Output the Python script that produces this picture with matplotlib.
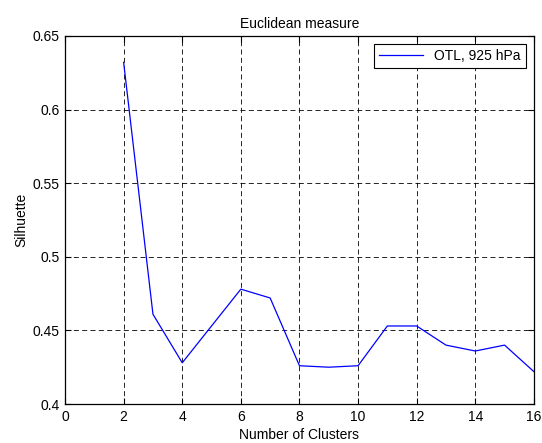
import matplotlib
matplotlib.use("Agg")
import matplotlib.pyplot as plt

plt.rcParams['font.family'] = ['Liberation Sans', 'DejaVu Sans']

clusters = [2, 3, 4, 5, 6, 7, 8, 9, 10, 11, 12, 13, 14, 15, 16]
silhouette = [0.632, 0.461, 0.428, 0.453, 0.478, 0.472, 0.426, 0.425, 0.426,
              0.453, 0.453, 0.440, 0.436, 0.440, 0.422]
xticks = list(range(0, 17, 2))
yticks = [0.4, 0.45, 0.5, 0.55, 0.6, 0.65]
ytick_labels = ['0.4', '0.45', '0.5', '0.55', '0.6', '0.65']

fig = plt.figure(figsize=(5.42, 4.43), dpi=100)
ax = fig.add_axes([0.12, 0.088, 0.865, 0.831])

ax.plot(clusters, silhouette, color='blue', linewidth=0.9, label='OTL, 925 hPa')

ax.set_xlim(0, 16)
ax.set_ylim(0.4, 0.65)
ax.set_xticks(xticks)
ax.set_yticks(yticks)
ax.set_yticklabels(ytick_labels)
ax.tick_params(direction='in', length=4, width=0.8, top=True, right=True,
               labelsize=10, pad=4)
ax.grid(True, color='black', linestyle=(0, (6, 4)), linewidth=0.6)
for s in ax.spines.values():
    s.set_linewidth(0.9)

ax.set_title('Euclidean measure', fontsize=10, pad=6)
ax.set_xlabel('Number of Clusters', fontsize=10, labelpad=3)
ax.set_ylabel('Silhuette', fontsize=10, labelpad=3)

leg = ax.legend(loc='upper right', fontsize=10, fancybox=False, framealpha=1,
                edgecolor='black', borderaxespad=0.6, handlelength=3.2,
                borderpad=0.35)
leg.get_frame().set_linewidth(0.8)

fig.savefig('out.png', dpi=100)
plt.close(fig)
